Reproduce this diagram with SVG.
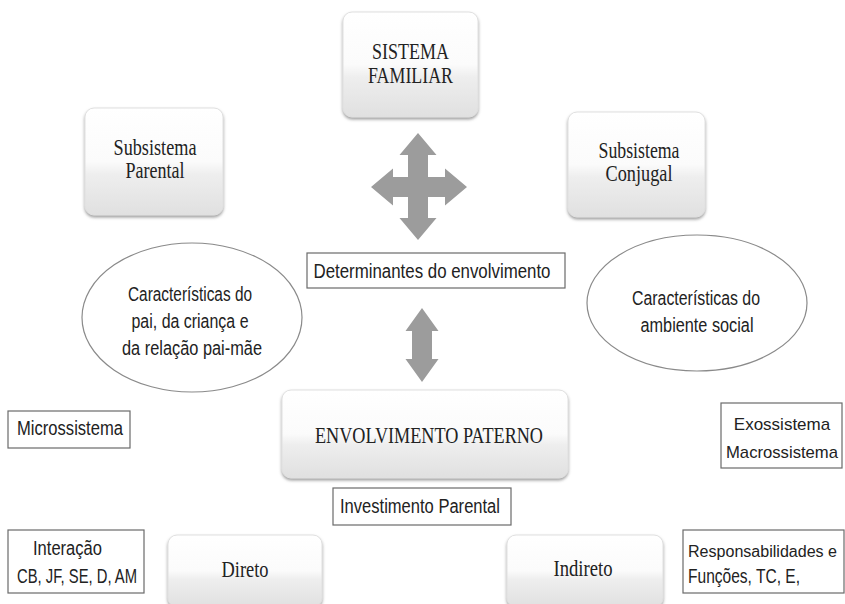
<svg xmlns="http://www.w3.org/2000/svg" width="845" height="604" viewBox="0 0 845 604">
  <defs>
    <linearGradient id="boxGrad" x1="0" y1="0" x2="0" y2="1">
      <stop offset="0" stop-color="#ffffff"/>
      <stop offset="0.5" stop-color="#fbfbfb"/>
      <stop offset="0.62" stop-color="#eeeeee"/>
      <stop offset="1" stop-color="#e0e0e0"/>
    </linearGradient>
    <filter id="shadow" x="-10%" y="-10%" width="120%" height="130%">
      <feDropShadow dx="0" dy="2" stdDeviation="1.5" flood-color="#777" flood-opacity="0.7"/>
    </filter>
  </defs>
  <style>
    .rbox { fill: url(#boxGrad); stroke: #e0e0e0; stroke-width: 1; filter: url(#shadow); }
    .sbox { fill: #ffffff; stroke: #6a6a6a; stroke-width: 1.2; }
    .ell { fill: #ffffff; stroke: #8a8a8a; stroke-width: 1.2; }
    .serif { font-family: "Liberation Serif", "Times New Roman", serif; font-size: 23px; fill: #222; text-anchor: middle; }
    .sans { font-family: "Liberation Sans", Arial, sans-serif; font-size: 20px; fill: #222; }
    .small { font-size: 16px; }
    .med { font-size: 17px; }
    .mid { text-anchor: middle; }
    .arrow { fill: #9c9c9c; }
  </style>
  <rect width="845" height="604" fill="#ffffff"/>

  <g id="connectors">
    <polygon class="arrow" points="418,133 436.5,155 428,155 428,177 445,177 445,168.5 467,187 445,205.5 445,197 428,197 428,218 436.5,218 418,240 399.5,218 408,218 408,197 393,197 393,205.5 371,187 393,168.5 393,177 408,177 408,155 399.5,155"/>
    <polygon class="arrow" points="422,308 438.5,331 432,331 432,359 438.5,359 422,382 405.5,359 412,359 412,331 405.5,331"/>
  </g>

  <g id="sistema-familiar">
    <rect class="rbox" x="343" y="12" width="135" height="105" rx="9"/>
    <text class="serif" x="410.5" y="59" textLength="77" lengthAdjust="spacingAndGlyphs">SISTEMA</text>
    <text class="serif" x="410.5" y="83" textLength="85" lengthAdjust="spacingAndGlyphs">FAMILIAR</text>
  </g>

  <g id="subsistema-parental">
    <rect class="rbox" x="85" y="108" width="138" height="107" rx="9"/>
    <text class="serif" x="155" y="155" font-size="21" textLength="83" lengthAdjust="spacingAndGlyphs">Subsistema</text>
    <text class="serif" x="155" y="178" font-size="21" textLength="59" lengthAdjust="spacingAndGlyphs">Parental</text>
  </g>

  <g id="subsistema-conjugal">
    <rect class="rbox" x="568" y="112" width="137" height="105" rx="9"/>
    <text class="serif" x="639" y="158" font-size="21" textLength="81" lengthAdjust="spacingAndGlyphs">Subsistema</text>
    <text class="serif" x="639" y="181" font-size="21" textLength="67" lengthAdjust="spacingAndGlyphs">Conjugal</text>
  </g>

  <g id="determinantes">
    <rect class="sbox" x="307" y="253" width="258" height="35"/>
    <text class="sans mid" x="432" y="278" textLength="237" lengthAdjust="spacingAndGlyphs">Determinantes do envolvimento</text>
  </g>

  <g id="caracteristicas-pai">
    <ellipse class="ell" cx="192" cy="317.5" rx="110" ry="74.5"/>
    <text class="sans mid" x="190" y="301" textLength="124" lengthAdjust="spacingAndGlyphs">Características do</text>
    <text class="sans mid" x="190" y="328" textLength="117" lengthAdjust="spacingAndGlyphs">pai, da criança e</text>
    <text class="sans mid" x="192" y="355" textLength="140" lengthAdjust="spacingAndGlyphs">da relação pai-mãe</text>
  </g>

  <g id="caracteristicas-ambiente">
    <ellipse class="ell" cx="697" cy="303" rx="110" ry="68"/>
    <text class="sans mid" x="696" y="305" textLength="128" lengthAdjust="spacingAndGlyphs">Características do</text>
    <text class="sans mid" x="697" y="332" textLength="113" lengthAdjust="spacingAndGlyphs">ambiente social</text>
  </g>

  <g id="microssistema">
    <rect class="sbox" x="8" y="411" width="122" height="37"/>
    <text class="sans" x="17" y="435" textLength="106" lengthAdjust="spacingAndGlyphs">Microssistema</text>
  </g>

  <g id="envolvimento-paterno">
    <rect class="rbox" x="282" y="390" width="286" height="88" rx="9"/>
    <text class="serif" x="429" y="443" textLength="228" lengthAdjust="spacingAndGlyphs">ENVOLVIMENTO PATERNO</text>
  </g>

  <g id="exossistema">
    <rect class="sbox" x="721" y="403" width="121" height="65"/>
    <text class="sans med mid" x="782" y="430">Exossistema</text>
    <text class="sans med mid" x="782" y="458" textLength="112" lengthAdjust="spacingAndGlyphs">Macrossistema</text>
  </g>

  <g id="investimento-parental">
    <rect class="sbox" x="333" y="488" width="178" height="37"/>
    <text class="sans" x="340" y="513" textLength="160" lengthAdjust="spacingAndGlyphs">Investimento Parental</text>
  </g>

  <g id="interacao">
    <rect class="sbox" x="8" y="530" width="136" height="63"/>
    <text class="sans" x="33" y="555" textLength="69" lengthAdjust="spacingAndGlyphs">Interação</text>
    <text class="sans" x="17" y="583" textLength="120" lengthAdjust="spacingAndGlyphs">CB, JF, SE, D, AM</text>
  </g>

  <g id="direto">
    <rect class="rbox" x="168" y="535" width="154" height="72" rx="9"/>
    <text class="serif" x="245" y="577" textLength="47" lengthAdjust="spacingAndGlyphs">Direto</text>
  </g>

  <g id="indireto">
    <rect class="rbox" x="507" y="535" width="156" height="72" rx="9"/>
    <text class="serif" x="583" y="576" textLength="59" lengthAdjust="spacingAndGlyphs">Indireto</text>
  </g>

  <g id="responsabilidades">
    <rect class="sbox" x="683" y="530" width="161" height="63"/>
    <text class="sans small" x="688" y="557" textLength="149" lengthAdjust="spacingAndGlyphs">Responsabilidades e</text>
    <text class="sans" x="688" y="583" textLength="112" lengthAdjust="spacingAndGlyphs">Funções, TC, E,</text>
  </g>
</svg>
